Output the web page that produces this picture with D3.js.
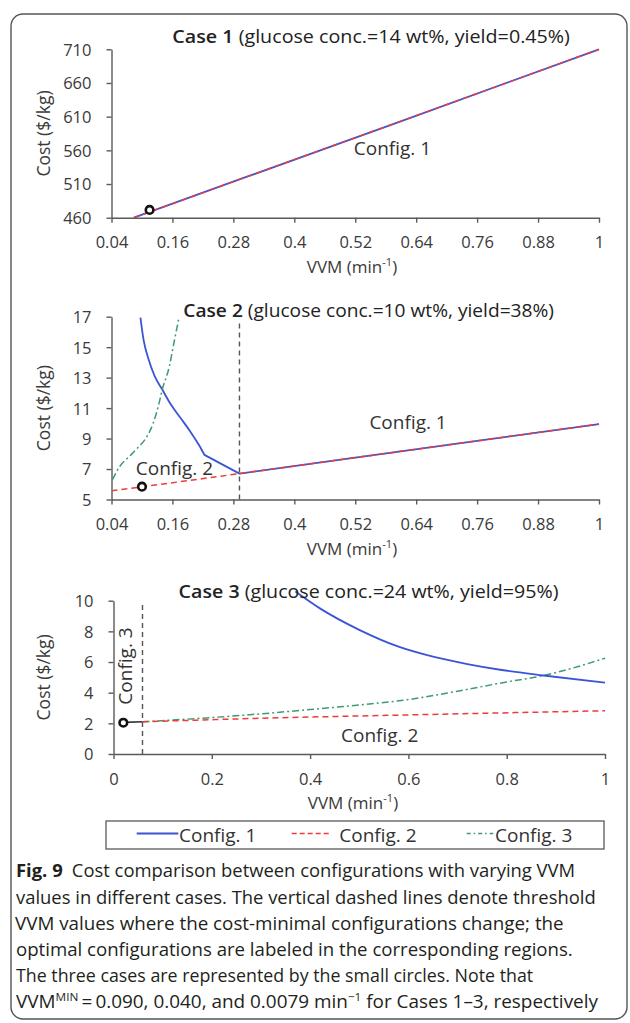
<!DOCTYPE html>
<html><head><meta charset="utf-8">
<script src="https://cdn.jsdelivr.net/npm/d3@7"></script>
<style>
body{margin:0;background:#fff}
svg{display:block}
text{font-family:'Open Sans','Noto Sans',sans-serif}
</style>
</head><body>
<svg id="c" width="630" height="1023"></svg>
<script>
// ---------- DATA ----------
const ticksX12 = [0.04, 0.16, 0.28, 0.4, 0.52, 0.64, 0.76, 0.88, 1];
const tickLabelsX12 = ["0.04", "0.16", "0.28", "0.4", "0.52", "0.64", "0.76", "0.88", "1"];
const ticksX3 = [0, 0.2, 0.4, 0.6, 0.8, 1];
const tickLabelsX3 = ["0", "0.2", "0.4", "0.6", "0.8", "1"];
const ticksY1 = [460, 510, 560, 610, 660, 710];
const ticksY2 = [5, 7, 9, 11, 13, 15, 17];
const ticksY3 = [0, 2, 4, 6, 8, 10];

const case1Config1 = [[0.084, 460], [0.3, 519], [0.6, 600.5], [1, 710]];
const case1Config2 = [[0.084, 460], [0.3, 519], [0.6, 600.5], [1, 710]];
const case1Point = [0.115, 471.5];

const case2Config1 = [[0.097, 16.94], [0.103, 15.51], [0.113, 14.2], [0.125, 13.1], [0.140, 12.22], [0.157, 11.23],
  [0.176, 10.35], [0.195, 9.47], [0.214, 8.48], [0.223, 7.93], [0.292, 6.7], [0.52, 7.75], [0.76, 8.85], [1, 9.95]];
const case2Config1Kink = 9; // index of the kink point (VVM 0.223)
const case2Config2 = [[0.04, 5.57], [0.16, 6.1], [0.292, 6.7], [0.52, 7.75], [0.76, 8.85], [1, 9.95]];
const case2Config3 = [[0.042, 6.3], [0.056, 7.16], [0.075, 7.82], [0.091, 8.37], [0.110, 9.14], [0.122, 10.0],
  [0.132, 11.1], [0.140, 12.22], [0.154, 13.75], [0.163, 15.3], [0.173, 16.94]];
const case2Point = [0.100, 5.84];
const case2Threshold = [[0.292, 5], [0.292, 16.7]];

const case3Config1 = [[0.37, 10.6], [0.42, 9.5], [0.5, 8.1], [0.58, 7.0], [0.65, 6.35], [0.72, 5.87], [0.79, 5.48], [0.875, 5.12], [1, 4.65]];
const case3Config2 = [[0.059, 2.1], [0.3, 2.33], [0.6, 2.55], [1, 2.82]];
const case3Config3 = [[0.059, 2.1], [0.2, 2.38], [0.3, 2.62], [0.4, 2.9], [0.5, 3.2], [0.6, 3.55], [0.7, 4.1], [0.8, 4.7], [0.875, 5.12], [0.95, 5.75], [1, 6.25]];
const case3Point = [0.02, 2.04];
const case3Link = [[0.02, 2.06], [0.059, 2.1]];
const case3Threshold = [[0.059, 0], [0.059, 9.9]];

const legendLabels = ["Config. 1", "Config. 2", "Config. 3"];
const captionLines = [
  "values in different cases. The vertical dashed lines denote threshold",
  "VVM values where the cost-minimal configurations change; the",
  "optimal configurations are labeled in the corresponding regions.",
  "The three cases are represented by the small circles. Note that"
];

// ---------- STYLE ----------
const BLUE = "#3b55d4", RED = "#ee3b3b", GREEN = "#3f9a72";
const AXIS = "#5a5a5a", TXT = "#3a3a3a";

const svg = d3.select("#c");
svg.append("rect").attr("x", 11).attr("y", 14).attr("width", 616).attr("height", 1005)
  .attr("rx", 12).attr("fill", "none").attr("stroke", "#555").attr("stroke-width", 1.4);

function fit(g, target) {
  const w = g.node().getBBox().width;
  return w > 0 ? target / w : 1;
}
function placeFit(x, y, target, build) {
  const g = svg.append("g");
  const t = g.append("text").attr("x", 0).attr("y", 0);
  build(t);
  const s = fit(t, target);
  g.attr("transform", `translate(${x},${y}) scale(${s},1)`);
  return g;
}

function panel(o) {
  const x = d3.scaleLinear().domain(o.xDomain).range(o.xRange);
  const y = d3.scaleLinear().domain(o.yDomain).range(o.yRange);
  const g = svg.append("g");
  const xa = g.append("g").attr("transform", `translate(0,${o.yRange[0]})`)
    .call(d3.axisBottom(x).tickValues(o.xTicks).tickFormat((d, i) => o.xLabels[i]).tickSize(5).tickSizeOuter(0).tickPadding(14));
  const ya = g.append("g").attr("transform", `translate(${o.xRange[0]},0)`)
    .call(d3.axisLeft(y).tickValues(o.yTicks).tickFormat(d => String(d)).tickSize(5).tickSizeOuter(0).tickPadding(15));
  [xa, ya].forEach(a => {
    a.select(".domain").attr("stroke", AXIS).attr("stroke-width", 1.4);
    a.selectAll(".tick line").attr("stroke", AXIS).attr("stroke-width", 1.4);
    a.selectAll(".tick text").attr("fill", TXT).style("font-size", "16.5px").style("font-family", "'Open Sans',sans-serif");
  });
  ya.selectAll(".tick text").attr("dy", "0.36em");
  const smooth = d3.line().x(d => x(d[0])).y(d => y(d[1])).curve(d3.curveMonotoneX);
  const straight = d3.line().x(d => x(d[0])).y(d => y(d[1]));
  if (o.threshold) {
    g.append("path").attr("d", straight(o.threshold)).attr("fill", "none")
      .attr("stroke", "#555").attr("stroke-width", 1.4).attr("stroke-dasharray", "5,4");
  }
  o.series.forEach(s => {
    let d;
    if (s.kink != null) {
      d = smooth(s.data.slice(0, s.kink + 1)) + straight(s.data.slice(s.kink)).replace(/^M/, "L");
    } else {
      d = (s.linear ? straight : smooth)(s.data);
    }
    g.append("path").attr("d", d).attr("fill", "none").attr("stroke", s.color)
      .attr("stroke-width", s.w || 1.8).attr("stroke-dasharray", s.dash || null)
      .attr("stroke-linejoin", "round");
  });
  if (o.link) {
    g.append("path").attr("d", straight(o.link)).attr("fill", "none").attr("stroke", "#333").attr("stroke-width", 1.6);
  }
  g.append("circle").attr("cx", x(o.point[0])).attr("cy", y(o.point[1])).attr("r", 3.8)
    .attr("fill", "#fff").attr("stroke", "#111").attr("stroke-width", 2.6);
  const xt = g.append("text").attr("x", o.xTitleX).attr("y", o.yRange[0] + 55).attr("text-anchor", "middle")
    .attr("fill", TXT).style("font-size", "17px");
  xt.append("tspan").text("VVM (min");
  xt.append("tspan").text("-1").style("font-size", "11px").attr("dy", -7);
  xt.append("tspan").text(")").attr("dy", 7);
  g.append("text").attr("transform", `translate(49.5,${(o.yRange[0] + o.yRange[1]) / 2}) rotate(-90)`)
    .attr("text-anchor", "middle").attr("fill", TXT).style("font-size", "17.5px").text("Cost ($/kg)");
  placeFit(o.title.x, o.title.y, o.title.w, t => {
    t.attr("fill", "#222").style("font-size", "18px");
    t.append("tspan").text(o.title.bold).style("font-weight", "600");
    t.append("tspan").text(" " + o.title.rest);
  });
  o.labels.forEach(l => {
    const t = g.append("text").attr("fill", "#333").style("font-size", "19px").text(l.text);
    if (l.rot) t.attr("transform", `translate(${l.x},${l.y}) rotate(-90)`).attr("text-anchor", "middle");
    else t.attr("x", l.x).attr("y", l.y);
  });
}

panel({
  xDomain: [0.04, 1], xRange: [111.5, 599], yDomain: [460, 710], yRange: [217.7, 49.3],
  xTicks: ticksX12, xLabels: tickLabelsX12, yTicks: ticksY1, xTitleX: 352,
  series: [
    { data: case1Config1, color: BLUE, linear: true },
    { data: case1Config2, color: RED, dash: "6,4", w: 1.4, linear: true }
  ],
  point: case1Point,
  title: { x: 172.3, y: 43, w: 398, bold: "Case 1", rest: "(glucose conc.=14 wt%, yield=0.45%)" },
  labels: [{ text: "Config. 1", x: 353.8, y: 155 }]
});

panel({
  xDomain: [0.04, 1], xRange: [111.5, 599], yDomain: [5, 17], yRange: [499.5, 316.7],
  xTicks: ticksX12, xLabels: tickLabelsX12, yTicks: ticksY2, xTitleX: 352,
  threshold: case2Threshold,
  series: [
    { data: case2Config1, color: BLUE, kink: case2Config1Kink },
    { data: case2Config2, color: RED, dash: "6,4", w: 1.5, linear: true },
    { data: case2Config3, color: GREEN, dash: "7,3,2,3", w: 1.5 }
  ],
  point: case2Point,
  title: { x: 183.3, y: 316.5, w: 371, bold: "Case 2", rest: "(glucose conc.=10 wt%, yield=38%)" },
  labels: [{ text: "Config. 1", x: 369.4, y: 429 }, { text: "Config. 2", x: 135.8, y: 475 }]
});

panel({
  xDomain: [0, 1], xRange: [113.5, 605], yDomain: [0, 10], yRange: [754, 600.7],
  xTicks: ticksX3, xLabels: tickLabelsX3, yTicks: ticksY3, xTitleX: 353,
  threshold: case3Threshold,
  series: [
    { data: case3Config3, color: GREEN, dash: "7,3,2,3", w: 1.5 },
    { data: case3Config2, color: RED, dash: "6,4", w: 1.5 },
    { data: case3Config1, color: BLUE }
  ],
  link: case3Link,
  point: case3Point,
  title: { x: 178.6, y: 598, w: 380, bold: "Case 3", rest: "(glucose conc.=24 wt%, yield=95%)" },
  labels: [{ text: "Config. 2", x: 341, y: 742 }, { text: "Config. 3", x: 132, y: 666, rot: true }]
});

// ---------- LEGEND ----------
const lg = svg.append("g");
lg.append("rect").attr("x", 106).attr("y", 821).attr("width", 498).attr("height", 28)
  .attr("fill", "#fff").attr("stroke", "#666").attr("stroke-width", 1.4);
const legItems = [
  { x1: 136.7, x2: 178.3, tx: 179, color: BLUE, dash: null, w: 1.8 },
  { x1: 291.7, x2: 331.7, tx: 339.3, color: RED, dash: "5,3", w: 1.5 },
  { x1: 466.7, x2: 493.3, tx: 495, color: GREEN, dash: "4,3,1.5,3", w: 1.5 }
];
legItems.forEach((it, i) => {
  lg.append("line").attr("x1", it.x1).attr("x2", it.x2).attr("y1", 833.5).attr("y2", 833.5)
    .attr("stroke", it.color).attr("stroke-width", it.w).attr("stroke-dasharray", it.dash);
  lg.append("text").attr("x", it.tx).attr("y", 841.5).attr("fill", "#333").style("font-size", "19px").text(legendLabels[i]);
});

// ---------- CAPTION ----------
const capBase = [877.3, 903.5, 929.7, 955.9, 982.1, 1008.3];
const capWidths = [559.7, 580.7, 549, 557.3, 518, 583];
const capX = [16, 16, 15, 16, 16, 16];
const CAPC = "#231f20";
placeFit(capX[0], capBase[0], capWidths[0], t => {
  t.attr("fill", CAPC).style("font-size", "18.5px");
  t.append("tspan").text("Fig. 9").style("font-weight", "700");
  t.append("tspan").text("\u2002Cost comparison between configurations with varying VVM");
});
captionLines.forEach((s, i) => {
  placeFit(capX[i + 1], capBase[i + 1], capWidths[i + 1], t => {
    t.attr("fill", CAPC).style("font-size", "18.5px").text(s);
  });
});
placeFit(capX[5], capBase[5], capWidths[5], t => {
  t.attr("fill", CAPC).style("font-size", "18.5px");
  t.append("tspan").text("VVM");
  t.append("tspan").text("MIN").style("font-size", "11.5px").attr("dy", -7);
  t.append("tspan").text("\u2009=\u20090.090, 0.040, and 0.0079 min").attr("dy", 7);
  t.append("tspan").text("\u22121").style("font-size", "11.5px").attr("dy", -7);
  t.append("tspan").text(" for Cases 1\u20133, respectively").attr("dy", 7);
});
</script>
</body></html>
